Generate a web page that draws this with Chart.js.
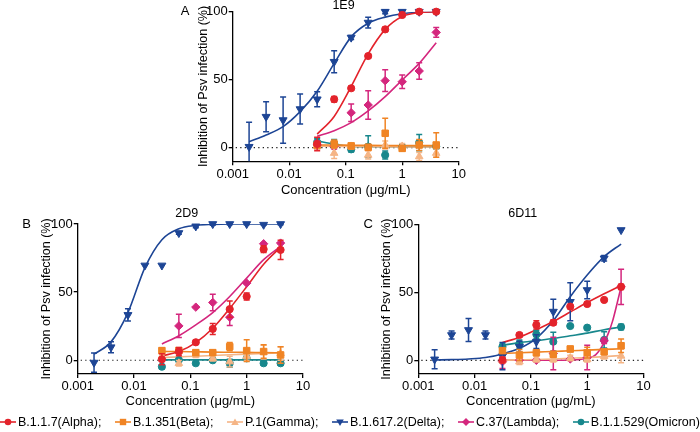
<!DOCTYPE html>
<html><head><meta charset="utf-8">
<script src="https://cdn.jsdelivr.net/npm/chart.js@4.4.1/dist/chart.umd.min.js"></script>
<style>
html,body{margin:0;padding:0;background:#fff;}
body{width:700px;height:432px;overflow:hidden;position:relative;font-family:"Liberation Sans",Arial,sans-serif;}
canvas{position:absolute;left:0;top:0;}
#legend{position:absolute;left:0;top:413px;width:700px;height:18px;display:flex;justify-content:space-between;align-items:center;font-size:12.5px;color:#000;}
#legend .it{display:flex;align-items:center;white-space:nowrap;}
#legend svg{margin-right:2px;}
</style></head><body>
<canvas id="cA" width="700" height="432"></canvas>
<canvas id="cB" width="700" height="432"></canvas>
<canvas id="cC" width="700" height="432"></canvas>
<div id="legend"></div>
<script>
// ---------- data ----------
const concAll = [0.00195, 0.0039, 0.0078, 0.0156, 0.03125, 0.0625, 0.125, 0.25, 0.5, 1, 2, 4];
const concVar = [0.03125, 0.0625, 0.125, 0.25, 0.5, 1, 2, 4];
const concLambdaFitC = [0.03125, 0.0625, 0.125, 0.25, 0.5, 1, 1.41, 2, 2.38, 2.83, 3.36, 4];
const xTicks = [0.001, 0.01, 0.1, 1, 10];
const xTickLabels = ['0.001', '0.01', '0.1', '1', '10'];
const yTicks = [0, 50, 100];
const yTickLabels = ['0', '50', '100'];
const seriesNames = ['B.1.1.7(Alpha);', 'B.1.351(Beta);', 'P.1(Gamma);', 'B.1.617.2(Delta);', 'C.37(Lambda);', 'B.1.1.529(Omicron)'];
const panelTitles = ['1E9', '2D9', '6D11'];
const panelLetters = ['A', 'B', 'C'];

// Panel A (1E9)
const A_alpha = [2.7, 35.6, 43.7, 67.4, 87, 97.6, 100, 100];
const A_alpha_err = [5, 2, 1.5, 1.5, 1.5, 1.5, 1, 1];
const A_alpha_fit = [10, 23, 45, 69, 87, 96.5, 99.3, 100];
const A_beta = [2, 2.7, 1.3, 0.3, 10.6, -0.5, 2, 2];
const A_beta_err = [2, 3, 2, 2, 11, 2, 4, 9];
const A_beta_fit = [2, 2, 1.8, 1.7, 1.6, 1.5, 1.5, 1.5];
const A_gamma = [1, -4, 1, -5.4, 2, 1, -6.5, -4];
const A_gamma_err = [2, 4, 2, 3, 3, 2, 3, 3];
const A_gamma_fit = [1.2, 1, 0.9, 0.8, 0.7, 0.6, 0.5, 0.5];
const A_delta = [0.7, 22.8, 20.3, 28.4, 35.6, 63.2, 81, 92, 100, 100, 100, 100];
const A_delta_err = [18, 11, 17, 11, 5.5, 8, 1.5, 4, 1.5, 1, 1, 1];
const A_delta_fit = [4.4, 9.3, 15.5, 26.5, 41.5, 62, 81.5, 91.5, 96, 98.5, 99.5, 100];
const A_lambda = [2, 1, 25.7, 31.4, 49.3, 48.5, 56.4, 84.8];
const A_lambda_err = [3, 2, 6.5, 10.5, 8, 5, 6, 3.5];
const A_lambda_fit = [8.5, 12.5, 18.4, 27, 37.5, 49.8, 62, 77.2];
const A_omicron = [4, 3, -1.2, 0.8, -5.4, 0.3, 3.7, 1];
const A_omicron_err = [3, 3, 2, 8, 3, 2, 6, 2];
const A_omicron_fit = [5, 2.5, 1, 0.8, 0.8, 0.8, 0.8, 0.8];

// Panel B (2D9)
const B_alpha = [0.7, 6.4, 13.2, 23, 37.5, 46.8, 81.5, 81];
const B_alpha_err = [4, 3, 1.5, 4, 6, 2.5, 2.5, 7];
const B_alpha_fit = [3.2, 6.4, 13, 23.5, 38, 54, 70.5, 83];
const B_beta = [7.1, 7.1, 5.6, 5.6, 10, 7.1, 6.4, 3.9];
const B_beta_err = [2, 2, 2, 2, 3, 8, 5, 6];
const B_beta_fit = [6.5, 6.4, 6.2, 6.0, 5.9, 5.8, 5.6, 5.5];
const B_gamma = [3, -2.2, 4, 1.4, -1, 3, 6, 5];
const B_gamma_err = [2, 2, 2, 2, 4, 3, 5, 5];
const B_gamma_fit = [2, 2.5, 3, 3.5, 4, 4.5, 5, 5.5];
const B_delta = [-1.7, 9.6, 33.3, 69.6, 69.6, 93.4, 98.3, 100, 100, 100, 99.5, 100];
const B_delta_err = [7, 4, 4.5, 0, 0, 1, 1, 1, 0.5, 0.5, 0.5, 0.5];
const B_delta_fit = [4.5, 13.5, 35, 68, 88.5, 96.5, 99, 99.7, 100, 100, 100, 100];
const B_lambda = [null, 25.2, 39, 42.4, 31.6, 56.6, 85.5, 86];
const B_lambda_err = [0, 8.5, 0, 6, 6, 0, 0, 0];
const B_lambda_fit = [12, 18, 26, 35, 46.8, 60.3, 73.8, 83.6];
const B_omicron = [-4.7, 0.2, -2.2, 0, -2.2, 1.4, -2.2, -2.2];
const B_omicron_err = [1.5, 1, 1, 1, 3, 1.5, 1.5, 1.5];
const B_omicron_fit = [0.3, 0.3, 0.3, 0.3, 0.3, 0.3, 0.3, 0.3];

// Panel C (6D11)
const C_alpha = [0.2, 18.6, 26, 27.7, 39.5, 41.4, 44.4, 54];
const C_alpha_err = [2, 1.5, 3, 2, 1.5, 1.5, 1, 2];
const C_alpha_fit = [13, 17, 22.5, 28.5, 35.5, 42.5, 49, 55];
const C_beta = [7.1, 3.9, 5.6, 4.4, 8.3, 5.6, 6.3, 10.7];
const C_beta_err = [2, 4, 2, 2, 2, 4, 2, 5];
const C_beta_fit = [5, 5.5, 6, 6.5, 7, 7.5, 8, 8.5];
const C_gamma = [0, -1, 0.7, 0.7, 1.7, 0.7, 3, 3.2];
const C_gamma_err = [2, 2, 2, 2, 2, 2, 2, 5];
const C_gamma_fit = [0, 0.3, 0.6, 1, 1.5, 2, 2.7, 3.5];
const C_delta = [0.7, 18.6, 22.3, 18.6, 3, 10, 13.7, 35.8, 43, 51.7, 75, 95.8];
const C_delta_err = [7, 3, 8.5, 3, 10, 4, 5, 9, 14, 6.5, 2, 0];
const C_delta_fit = [0.2, 0.5, 1, 2, 4.7, 8.8, 16.2, 29.2, 46.8, 62.7, 76.2, 85.5];
const C_lambda = [-1, 0, 0, 5, 1, 2, 14.4, 54];
const C_lambda_err = [5, 1, 1, 12, 1, 9, 2, 13];
const C_lambda_fit = [0, 0, 0, 0, 0.2, 1.5, 4, 13, 20, 29, 41, 54];
const C_omicron = [10, 12, 19.1, 13.7, 25.2, 24, 15, 24.5];
const C_omicron_err = [2, 3, 3, 7, 0, 0, 6, 2];
const C_omicron_fit = [11, 13, 14.5, 16, 18, 20, 22.5, 24.5];

// ---------- styles ----------
const colors = ['#e3232b', '#f08424', '#f5b586', '#1d4595', '#d4267d', '#17878c'];
const pStyles = ['circle', 'rect', 'triangle', 'triangle', 'rectRot', 'circle'];
const pRot = [0, 0, 0, 180, 0, 0];
const pRad = [3.6, 4.6, 4.4, 4.6, 4.2, 3.6];
const FONT = '"Liberation Sans", Arial, sans-serif';
Chart.defaults.font.family = FONT;
Chart.defaults.color = '#000';

function pts(xs, ys, es) {
  const out = [];
  xs.forEach((x, i) => { if (ys[i] !== null) out.push({x: x, y: ys[i], e: es[i]}); });
  return out;
}
function line(xs, ys) { return xs.map((x, i) => ({x: x, y: ys[i]})); }

function buildDatasets(list) {
  // list: [ [xs, ys, errs, fitXs, fitYs], ...] in series order
  const pointSets = [], fitSets = [];
  list.forEach((s, k) => {
    pointSets.push({
      data: pts(s[0], s[1], s[2]), isPoints: true,
      showLine: false, pointStyle: pStyles[k], pointRotation: pRot[k], pointRadius: pRad[k],
      backgroundColor: colors[k], borderColor: colors[k], borderWidth: 1, clip: false
    });
    fitSets.push({
      data: line(s[3], s[4]), showLine: true, pointRadius: 0, borderColor: colors[k],
      borderWidth: 1.6, cubicInterpolationMode: 'monotone', fill: false
    });
  });
  return pointSets.concat(fitSets);
}

const errorBars = {
  id: 'errorBars',
  beforeDatasetDraw(chart, args) {
    const ds = chart.data.datasets[args.index];
    if (!ds.isPoints) return;
    const {ctx, chartArea} = chart;
    const xs = chart.scales.x, ys = chart.scales.y;
    ctx.save();
    ctx.beginPath();
    ctx.rect(chartArea.left - 20, 0, chartArea.right - chartArea.left + 40, chartArea.bottom);
    ctx.clip();
    ctx.strokeStyle = ds.borderColor;
    ctx.lineWidth = 1.5;
    ds.data.forEach(p => {
      if (!p.e) return;
      const px = xs.getPixelForValue(p.x);
      const y1 = ys.getPixelForValue(p.y - p.e), y2 = ys.getPixelForValue(p.y + p.e);
      ctx.beginPath();
      ctx.moveTo(px, y1); ctx.lineTo(px, y2);
      ctx.moveTo(px - 3, y1); ctx.lineTo(px + 3, y1);
      ctx.moveTo(px - 3, y2); ctx.lineTo(px + 3, y2);
      ctx.stroke();
    });
    ctx.restore();
  }
};

const zeroLine = {
  id: 'zeroLine',
  beforeDatasetsDraw(chart) {
    const {ctx, chartArea} = chart;
    const y0 = chart.scales.y.getPixelForValue(0);
    ctx.save();
    ctx.strokeStyle = '#222';
    ctx.lineWidth = 1.2;
    ctx.setLineDash([1.3, 3.2]);
    ctx.beginPath();
    ctx.moveTo(chartArea.left + 3, y0); ctx.lineTo(chartArea.right, y0);
    ctx.stroke();
    ctx.restore();
  }
};

const panelText = {
  id: 'panelText',
  afterDraw(chart, args, o) {
    const ctx = chart.ctx;
    ctx.save();
    ctx.fillStyle = '#000';
    ctx.textBaseline = 'middle';
    ctx.textAlign = 'center';
    ctx.font = '12.5px ' + FONT;
    ctx.fillText(o.title, o.tx, o.ty);
    ctx.font = '13px ' + FONT;
    ctx.fillText(o.letter, o.lx, o.ly);
    ctx.restore();
  }
};

function makeChart(id, datasets, pad, xh, ytp, txt) {
  return new Chart(document.getElementById(id), {
    type: 'scatter',
    data: {datasets: datasets},
    plugins: [zeroLine, errorBars, panelText],
    options: {
      responsive: false, animation: false, devicePixelRatio: 1,
      layout: {padding: pad},
      plugins: {legend: {display: false}, tooltip: {enabled: false}, panelText: txt},
      scales: {
        x: {
          type: 'logarithmic', min: 0.001, max: 10, position: 'bottom',
          afterBuildTicks: s => { s.ticks = xTicks.map(v => ({value: v})); },
          afterFit: s => { s.height = xh; },
          ticks: {callback: (v, i) => xTickLabels[i], font: {size: 13}, color: '#000', padding: 1, maxRotation: 0, autoSkip: false},
          grid: {display: true, drawOnChartArea: false, drawTicks: true, tickLength: 4, color: '#000', lineWidth: 1.3},
          border: {display: true, color: '#000', width: 1.3},
          title: {display: true, text: 'Concentration (μg/mL)', font: {size: 13}, color: '#000', padding: {top: 0, bottom: 0}}
        },
        y: {
          type: 'linear', min: -10, max: 100, position: 'left',
          afterBuildTicks: s => { s.ticks = yTicks.map(v => ({value: v})); },
          afterFit: s => { s.width = 40; },
          ticks: {callback: (v, i) => yTickLabels[i], font: {size: 13}, color: '#000', padding: 1},
          grid: {display: true, drawOnChartArea: false, drawTicks: true, tickLength: 4, color: '#000', lineWidth: 1.3},
          border: {display: true, color: '#000', width: 1.3},
          title: {display: true, text: 'Inhibition of Psv infection (%)', font: {size: 12.5}, color: '#000', padding: {top: ytp, bottom: 0}}
        }
      }
    }
  });
}

makeChart('cA', buildDatasets([
  [concVar, A_alpha, A_alpha_err, concVar, A_alpha_fit],
  [concVar, A_beta, A_beta_err, concVar, A_beta_fit],
  [concVar, A_gamma, A_gamma_err, concVar, A_gamma_fit],
  [concAll, A_delta, A_delta_err, concAll, A_delta_fit],
  [concVar, A_lambda, A_lambda_err, concVar, A_lambda_fit],
  [concVar, A_omicron, A_omicron_err, concVar, A_omicron_fit]
]), {left: 192.7, top: 11.7, right: 241.3, bottom: 234.2}, 36.5, 3.1,
  {title: panelTitles[0], tx: 343.5, ty: 5.5, letter: panelLetters[0], lx: 185, ly: 11.7});

makeChart('cB', buildDatasets([
  [concVar, B_alpha, B_alpha_err, concVar, B_alpha_fit],
  [concVar, B_beta, B_beta_err, concVar, B_beta_fit],
  [concVar, B_gamma, B_gamma_err, concVar, B_gamma_fit],
  [concAll, B_delta, B_delta_err, concAll, B_delta_fit],
  [concVar, B_lambda, B_lambda_err, concVar, B_lambda_fit],
  [concVar, B_omicron, B_omicron_err, concVar, B_omicron_fit]
]), {left: 37.7, top: 224, right: 397, bottom: 22.5}, 35.6, 1.5,
  {title: panelTitles[1], tx: 186.7, ty: 213.3, letter: panelLetters[1], lx: 26.7, ly: 224});

makeChart('cC', buildDatasets([
  [concVar, C_alpha, C_alpha_err, concVar, C_alpha_fit],
  [concVar, C_beta, C_beta_err, concVar, C_beta_fit],
  [concVar, C_gamma, C_gamma_err, concVar, C_gamma_fit],
  [concAll, C_delta, C_delta_err, concAll, C_delta_fit],
  [concVar, C_lambda, C_lambda_err, concLambdaFitC, C_lambda_fit],
  [concVar, C_omicron, C_omicron_err, concVar, C_omicron_fit]
]), {left: 378.3, top: 224.3, right: 56.5, bottom: 22.5}, 35.6, 0.9,
  {title: panelTitles[2], tx: 522.8, ty: 213.3, letter: panelLetters[2], lx: 368.3, ly: 224});

// ---------- legend ----------
function markerSvg(k) {
  const c = colors[k];
  let m = '';
  if (pStyles[k] === 'circle') m = `<circle cx="8" cy="5" r="3.3" fill="${c}"/>`;
  else if (pStyles[k] === 'rect') m = `<rect x="4.8" y="1.8" width="6.4" height="6.4" fill="${c}"/>`;
  else if (pStyles[k] === 'rectRot') m = `<polygon points="8,1 12,5 8,9 4,5" fill="${c}"/>`;
  else if (pRot[k] === 180) m = `<polygon points="4.2,2.6 11.8,2.6 8,9" fill="${c}"/>`;
  else m = `<polygon points="4.2,8 11.8,8 8,1.4" fill="${c}"/>`;
  return `<svg width="16" height="10" viewBox="0 0 16 10"><line x1="0" y1="5" x2="16" y2="5" stroke="${c}" stroke-width="1.6"/>${m}</svg>`;
}
const lg = document.getElementById('legend');
seriesNames.forEach((n, k) => {
  const d = document.createElement('div');
  d.className = 'it';
  d.innerHTML = markerSvg(k) + '<span>' + n + '</span>';
  lg.appendChild(d);
});
</script>
</body></html>
